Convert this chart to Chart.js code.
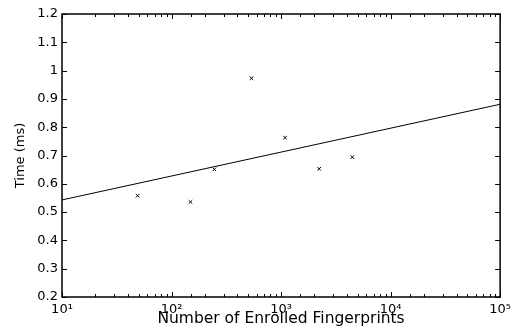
<!DOCTYPE html>
<html>
<head>
<meta charset="utf-8">
<script src="https://cdn.jsdelivr.net/npm/chart.js@4/dist/chart.umd.min.js"></script>
<style>
	html, body { margin: 0; padding: 0; background: #fff; }
	#wrap { width: 516px; height: 333px; }
</style>
</head>
<body>
<div id="wrap"><canvas id="chart"></canvas></div>
<script>
// measured points (enrolled fingerprints vs time)
let ENROLLED = [49, 149, 246, 537, 1088, 2228, 4473];
let TIME_MS = [0.558, 0.536, 0.651, 0.973, 0.763, 0.653, 0.694];

// fitted line end points
let FIT_X = [10, 100000];
let FIT_Y = [0.543, 0.881];

let X_MIN = 10, X_MAX = 100000;
let Y_MIN = 0.2, Y_MAX = 1.2, Y_STEP = 0.1;
let SUP = { 1: '\u00b9', 2: '\u00b2', 3: '\u00b3', 4: '\u2074', 5: '\u2075' };

function isPow10(v) {
	let l = Math.log10(v);
	return Math.abs(l - Math.round(l)) < 1e-9;
}

// inward ticks on all four sides plus the box
let boxTicks = {
	id: 'boxTicks',
	afterDraw(chart) {
		let ctx = chart.ctx;
		let a = chart.chartArea;
		let xs = chart.scales.x, ys = chart.scales.y;
		ctx.save();
		ctx.strokeStyle = '#000';
		ctx.lineWidth = 1;
		ctx.beginPath();
		ys.ticks.forEach((t) => {
			let py = Math.round(ys.getPixelForValue(t.value)) + 0.5;
			ctx.moveTo(a.left, py); ctx.lineTo(a.left + 5, py);
			ctx.moveTo(a.right, py); ctx.lineTo(a.right - 5, py);
		});
		xs.ticks.forEach((t) => {
			if (t.value < X_MIN || t.value > X_MAX) return;
			let px = Math.round(xs.getPixelForValue(t.value)) + 0.5;
			let len = isPow10(t.value) ? 5 : 3;
			ctx.moveTo(px, a.bottom); ctx.lineTo(px, a.bottom - len);
			ctx.moveTo(px, a.top); ctx.lineTo(px, a.top + len);
		});
		ctx.stroke();
		ctx.lineWidth = 1.5;
		ctx.strokeRect(a.left, a.top, a.right - a.left, a.bottom - a.top);
		ctx.restore();
	},
};

Chart.defaults.font.family = '"DejaVu Sans", "Liberation Sans", Arial, sans-serif';
Chart.defaults.color = '#000';

var ctx = document.getElementById('chart').getContext('2d');
var scatterChart = new Chart(ctx, {
	type: 'scatter',
	data: {
		datasets: [
			{
				label: 'measured',
				data: ENROLLED.map((x, i) => ({ x: x, y: TIME_MS[i] })),
				pointStyle: 'crossRot',
				pointRadius: 2.5,
				pointBorderWidth: 1,
				borderColor: '#000',
				backgroundColor: '#000',
			},
			{
				label: 'fit',
				data: FIT_X.map((x, i) => ({ x: x, y: FIT_Y[i] })),
				showLine: true,
				pointRadius: 0,
				borderColor: '#000',
				borderWidth: 1,
			},
		],
	},
	options: {
		animation: false,
		responsive: true,
		maintainAspectRatio: false,
		layout: { padding: { left: 0, right: 14, top: 14, bottom: 0 } },
		plugins: { legend: { display: false }, tooltip: { enabled: false } },
		scales: {
			x: {
				type: 'logarithmic',
				min: X_MIN,
				max: X_MAX,
				grid: { display: false, drawTicks: false },
				border: { display: false },
				ticks: {
					autoSkip: false,
					maxRotation: 0,
					padding: 5,
					font: { size: 13 },
					callback: (v) => (isPow10(v) ? '10' + SUP[Math.round(Math.log10(v))] : ''),
				},
				title: {
					display: true,
					text: 'Number of Enrolled Fingerprints',
					font: { size: 15.5 },
					padding: { top: 0, bottom: 5 },
				},
				afterFit: (scale) => { scale.height = 36; },
			},
			y: {
				min: Y_MIN,
				max: Y_MAX,
				grid: { display: false, drawTicks: false },
				border: { display: false },
				ticks: {
					stepSize: Y_STEP,
					padding: 4,
					font: { size: 13 },
					callback: (v) => String(Math.round(v * 10) / 10),
				},
				title: {
					display: true,
					text: 'Time (ms)',
					font: { size: 13 },
					padding: { top: 13, bottom: 0 },
				},
				afterFit: (scale) => { scale.width = 62; },
			},
		},
	},
	plugins: [boxTicks],
});
</script>
</body>
</html>
